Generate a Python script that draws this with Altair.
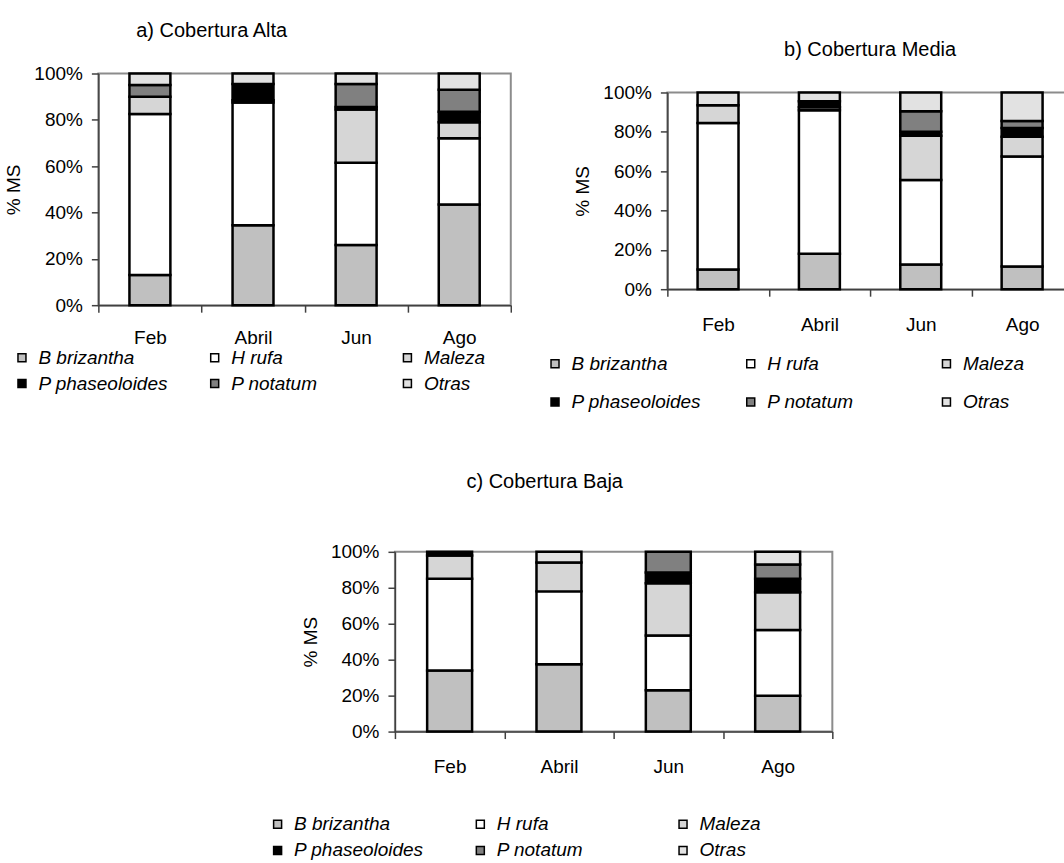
import altair as alt
import pandas as pd

months = ["Feb", "Abril", "Jun", "Ago"]
# stacking order, bottom to top
species = ["B brizantha", "H rufa", "Maleza", "P phaseoloides", "P notatum", "Otras"]
colors = ["#c0c0c0", "#ffffff", "#d6d6d6", "#000000", "#808080", "#e2e2e2"]
# legend reading order (column-major fill of a 3-column grid)
legend_order = ["B brizantha", "P phaseoloides", "H rufa", "P notatum", "Maleza", "Otras"]

# a) Cobertura Alta  (% MS, per month Feb, Abril, Jun, Ago)
alta_b_brizantha = [13, 34.5, 26, 43.5]
alta_h_rufa = [69.5, 53, 35.5, 28.5]
alta_maleza = [7.5, 1, 23, 7]
alta_p_phaseoloides = [0, 7, 1, 4.5]
alta_p_notatum = [5, 0, 10, 9.5]
alta_otras = [5, 4.5, 4.5, 7]

# b) Cobertura Media
media_b_brizantha = [10, 18, 12.5, 11.5]
media_h_rufa = [74.5, 73, 43, 56]
media_maleza = [9, 1.5, 22.5, 10]
media_p_phaseoloides = [0, 3, 2, 4.5]
media_p_notatum = [0, 0, 10.5, 3.5]
media_otras = [6.5, 4.5, 9.5, 14.5]

# c) Cobertura Baja
baja_b_brizantha = [34, 37.5, 23, 20]
baja_h_rufa = [51, 40.5, 30.5, 36.5]
baja_maleza = [13, 16, 29, 21]
baja_p_phaseoloides = [2, 0, 6, 7.5]
baja_p_notatum = [0, 0, 11.5, 8]
baja_otras = [0, 6, 0, 7]

y_ticks = [0, 0.2, 0.4, 0.6, 0.8, 1.0]
FONT = "Liberation Sans"
legend_colors = [colors[species.index(s)] for s in legend_order]


def make_df(series):
    rows = []
    for k, (sp, vals) in enumerate(zip(species, series)):
        for m, v in zip(months, vals):
            if v > 0:
                rows.append({"Mes": m, "Especie": sp, "Valor": v, "ord": k})
    return pd.DataFrame(rows)


def panel(title, series, width, height, bar_size, lx, ly, row_pad, col_pad, title_dx, title_offset, xpad):
    df = make_df(series)
    return (
        alt.Chart(df)
        .mark_bar(size=bar_size, stroke="black", strokeWidth=2.5)
        .encode(
            x=alt.X(
                "Mes:N",
                sort=months,
                scale=alt.Scale(paddingInner=0, paddingOuter=0),
                axis=alt.Axis(title=None, labelAngle=0, tickBand="extent", labelPadding=xpad),
            ),
            y=alt.Y(
                "Valor:Q",
                stack="normalize",
                scale=alt.Scale(domain=[0, 1], nice=False),
                axis=alt.Axis(title="% MS", format=".0%", values=y_ticks, titlePadding=10),
            ),
            color=alt.Color(
                "Especie:N",
                scale=alt.Scale(domain=legend_order, range=legend_colors),
                legend=alt.Legend(
                    orient="none",
                    legendX=lx,
                    legendY=ly,
                    columns=3,
                    title=None,
                    symbolType="square",
                    symbolSize=64,
                    symbolStrokeColor="black",
                    symbolStrokeWidth=1.5,
                    labelFont=FONT,
                    labelFontSize=19,
                    labelFontStyle="italic",
                    labelColor="black",
                    labelOffset=7,
                    columnPadding=col_pad,
                    rowPadding=row_pad,
                    gridAlign="all",
                    padding=0,
                    offset=0,
                ),
            ),
            order=alt.Order("ord:Q", sort="ascending"),
        )
        .properties(
            width=width,
            height=height,
            title=alt.TitleParams(
                text=title,
                dx=title_dx,
                offset=title_offset,
                font=FONT,
                fontSize=20,
                fontWeight="normal",
                color="black",
                anchor="middle",
            ),
        )
    )


def spacer(w, h):
    return (
        alt.Chart(pd.DataFrame({"v": [0]}))
        .mark_point(size=1, opacity=0, filled=True)
        .encode(x=alt.value(0), y=alt.value(0))
        .properties(width=w, height=h, view=alt.ViewBackground(stroke="transparent"))
    )


a = panel(
    "a) Cobertura Alta",
    [alta_b_brizantha, alta_h_rufa, alta_maleza, alta_p_phaseoloides, alta_p_notatum, alta_otras],
    413, 232, 41, -86, 275, 6, 37, -93, 23.3, 16,
)
b = panel(
    "b) Cobertura Media",
    [media_b_brizantha, media_h_rufa, media_maleza, media_p_phaseoloides, media_p_notatum, media_otras],
    406, 197, 41, -122, 262, 18.5, 40, 0, 23.3, 19,
)
c = panel(
    "c) Cobertura Baja",
    [baja_b_brizantha, baja_h_rufa, baja_maleza, baja_p_phaseoloides, baja_p_notatum, baja_otras],
    438, 180, 45, -127, 263, 6.5, 47, -69, 51.2, 19,
)

a_col = alt.vconcat(spacer(1, 1), a, spacing=0).resolve_scale(color="independent")
b_col = alt.vconcat(spacer(1, 19.7), b, spacing=0).resolve_scale(color="independent")

top = alt.hconcat(a_col, b_col, spacing=31.8).resolve_scale(color="independent")
bottom = alt.hconcat(spacer(158, 1), c, spacing=10).resolve_scale(color="independent")

chart = (
    alt.vconcat(top, bottom, spacing=57)
    .resolve_scale(color="independent")
    .properties(padding={"left": 3.5, "top": 15, "right": -11, "bottom": 0}, background="white")
    .configure_view(stroke="#8c8c8c", strokeWidth=2)
    .configure_axis(
        labelFont=FONT,
        labelFontSize=19,
        labelColor="black",
        titleFont=FONT,
        titleFontSize=19,
        titleFontWeight="normal",
        titleColor="black",
        domainColor="#404040",
        domainWidth=1.5,
        tickColor="#404040",
        tickWidth=1.5,
        tickSize=7,
        grid=False,
        labelPadding=9,
    )
)

chart.save("out.html", embed_options={"renderer": "svg", "actions": False})
